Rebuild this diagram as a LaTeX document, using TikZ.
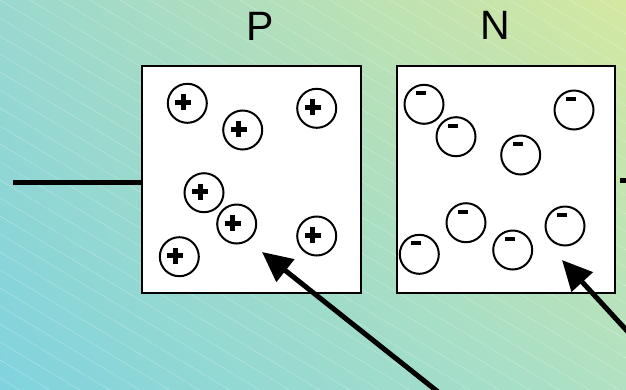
\documentclass[tikz,border=0pt]{standalone}
\usepackage{fontspec}
\setmainfont{Liberation Sans}
\usetikzlibrary{arrows.meta,calc,shadings}
\definecolor{bgTL}{HTML}{9AD8CF}
\definecolor{bgTR}{HTML}{D4E8A0}
\definecolor{bgBL}{HTML}{80D3DE}
\definecolor{bgBR}{HTML}{B0E1C2}
\begin{document}
\begin{tikzpicture}[x=1pt,y=-1pt,
  box/.style={draw=black, line width=2pt, fill=white, rectangle, inner sep=0pt, anchor=north west},
  ion/.style={circle, draw=black, line width=2pt, minimum size=39pt, inner sep=0pt, fill=white},
  wire/.style={line width=5pt, line cap=butt},
  pointer/.style={line width=5pt, -{Triangle[length=30pt,width=28pt]}},
  lbl/.style={font=\fontsize{41}{41}\selectfont, inner sep=0pt, anchor=base},
  hatch/.style={white, opacity=0.4, line width=0.6pt, dash pattern=on 1.2pt off 0.8pt}]
\useasboundingbox (0,0) rectangle (626,389);
\clip (0,0) rectangle (626,389);
\shade[upper left=bgTL, upper right=bgTR, lower left=bgBL, lower right=bgBR] (0,0) rectangle (626,389);
\foreach \i in {-660,-630,...,640} {
  \draw[hatch] (\i,0) -- ++(670,402);
}
% boxes
\node[box, minimum width=219pt, minimum height=227pt] (P) at (141,65) {};
\node[box, minimum width=218pt, minimum height=227pt] (N) at (396,65) {};
% labels
\node[lbl] (lP) at (260,40.5) {P};
\node[lbl] (lN) at (495.5,39.5) {N};
% wires
\coordinate (wl) at (13,182);
\draw[wire] (wl) -- (wl -| P.west);
\coordinate (wr1) at (620,180);
\coordinate (wr2) at (634,180);
\draw[wire] (wr1) -- (wr2);
% positive ions
\foreach \n/\x/\y in {1/187.3/103.3, 2/242.7/130, 3/316.7/108.3, 4/204/192.7, 5/236.7/224, 6/316.7/236, 7/179.3/256.7} {
  \node[ion] (p\n) at (\x,\y) {};
  \fill ($(p\n)+(-12,-3.5)$) rectangle ++(16,5);
  \fill ($(p\n)+(-6.5,-9)$) rectangle ++(5,16);
}
% negative ions
\foreach \n/\x/\y in {1/424/104.3, 2/456/136.7, 3/574/110, 4/520.7/155, 5/466/222.7, 6/419.3/254.3, 7/512.7/250, 8/565/226} {
  \node[ion] (n\n) at (\x,\y) {};
  \fill ($(n\n)+(-8,-13)$) rectangle ++(10,4);
}
% arrows
\coordinate (t1) at (262,252);
\coordinate (s1) at (452,403);
\draw[pointer] (s1) -- (t1);
\coordinate (t2) at (562,260);
\coordinate (s2) at (640,345);
\draw[pointer] (s2) -- (t2);
\end{tikzpicture}
\end{document}
